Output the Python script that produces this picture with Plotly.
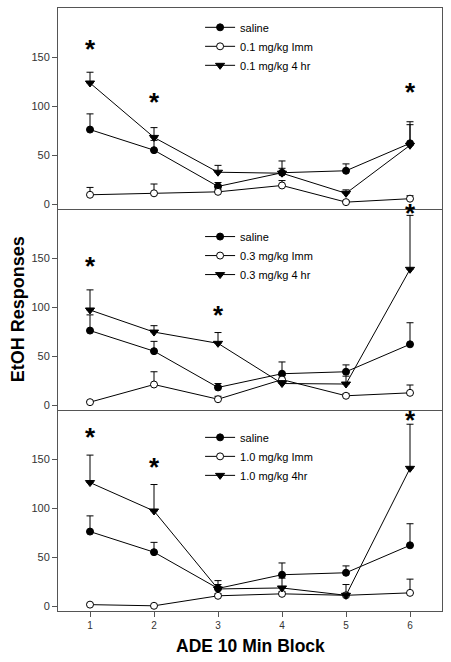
import plotly.graph_objects as go
from plotly.subplots import make_subplots

blocks = [1, 2, 3, 4, 5, 6]
tick_vals = [0, 50, 100, 150]

saline = [76, 55, 18, 32, 34, 62]
saline_err = [16, 10, 4, 12, 7, 22]

imm01 = [9.5, 11, 12.5, 19, 2, 5.5]
imm01_err = [7.5, 9.5, 2, 5, 1.5, 3]
hr01 = [123.5, 68, 32.5, 31.5, 11, 60]
hr01_err = [11, 10, 7, 5, 3.5, 21]

imm03 = [3, 21, 6, 26, 9.5, 12.5]
imm03_err = [1, 13, 3, 4, 2, 8]
hr03 = [97, 74.5, 63, 22, 21.5, 138.5]
hr03_err = [20.5, 6.5, 11, 3, 8, 55]

imm10 = [1.5, 0.3, 10.5, 12.5, 11, 13.5]
imm10_err = [0.5, 0.3, 2, 2, 2, 14]
hr10 = [126, 97, 17.5, 18.5, 11, 140.5]
hr10_err = [28, 27, 8.5, 10, 11, 45]

stars01_x = [1, 2, 6]
stars01_y = [161, 107.5, 117]
stars03_x = [1, 3, 6]
stars03_y = [145, 95, 199]
stars10_x = [1, 2, 6]
stars10_y = [176, 144.5, 193]

panels = [
    ("0.1 mg/kg Imm", imm01, imm01_err, "0.1 mg/kg 4 hr", hr01, hr01_err, stars01_x, stars01_y),
    ("0.3 mg/kg Imm", imm03, imm03_err, "0.3 mg/kg 4 hr", hr03, hr03_err, stars03_x, stars03_y),
    ("1.0 mg/kg Imm", imm10, imm10_err, "1.0 mg/kg 4hr", hr10, hr10_err, stars10_x, stars10_y),
]

FONT = "Liberation Sans, Arial, sans-serif"
fig = make_subplots(rows=3, cols=1, shared_xaxes=True, vertical_spacing=0)

legend_names = ["legend", "legend2", "legend3"]
legend_y = [0.992, 0.645, 0.312]

for i, (n_imm, v_imm, e_imm, n_hr, v_hr, e_hr, sx, sy) in enumerate(panels):
    row = i + 1
    lg = legend_names[i]
    series = [
        ("saline", saline, saline_err, dict(symbol="circle", color="black", size=7, line=dict(color="black", width=1))),
        (n_imm, v_imm, e_imm, dict(symbol="circle", color="white", size=7, line=dict(color="black", width=1))),
        (n_hr, v_hr, e_hr, dict(symbol="triangle-down", color="black", size=8, line=dict(color="black", width=1))),
    ]
    for name, vals, errs, mk in series:
        fig.add_trace(go.Scatter(
            x=blocks, y=vals, name=name, mode="lines+markers",
            line=dict(color="black", width=1), marker=mk,
            error_y=dict(type="data", symmetric=False, array=errs,
                         arrayminus=[0] * len(errs), color="black",
                         thickness=1, width=3.5),
            legend=lg, cliponaxis=False,
        ), row=row, col=1)
    yref = "y" if row == 1 else f"y{row}"
    for x, y in zip(sx, sy):
        fig.add_annotation(x=x, y=y, xref="x" if row == 1 else f"x{row}", yref=yref,
                           text="<b>*</b>", showarrow=False,
                           font=dict(family=FONT, size=26, color="black"),
                           yanchor="middle", yshift=-3)

for i in range(3):
    fig.update_yaxes(range=[-5, 200], tickvals=tick_vals, ticks="outside", ticklen=5,
                     tickcolor="#555", showline=True, linecolor="#555", linewidth=1,
                     mirror=True, showgrid=False, zeroline=False,
                     tickfont=dict(family=FONT, size=11, color="#333"), row=i + 1, col=1)
    fig.update_xaxes(range=[0.5, 6.5], tickvals=blocks, showline=True, linecolor="#555",
                     linewidth=1, mirror=(i == 0), showgrid=False, zeroline=False,
                     ticks="outside" if i == 2 else "", ticklen=5, tickcolor="#555",
                     showticklabels=(i == 2),
                     tickfont=dict(family=FONT, size=10, color="#333"), row=i + 1, col=1)

legend_style = dict(x=0.37, xanchor="left", yanchor="top", bgcolor="rgba(0,0,0,0)",
                    font=dict(family=FONT, size=11, color="black"),
                    itemwidth=30, tracegroupgap=0)
fig.update_layout(
    width=451, height=662,
    margin=dict(l=58, r=9, t=8, b=51, autoexpand=False),
    paper_bgcolor="white", plot_bgcolor="white",
    showlegend=True,
    legend=dict(y=legend_y[0], **legend_style),
    legend2=dict(y=legend_y[1], **legend_style),
    legend3=dict(y=legend_y[2], **legend_style),
)

fig.add_annotation(x=-0.105, y=0.5, xref="paper", yref="paper", text="<b>EtOH Responses</b>",
                   textangle=-90, showarrow=False, xanchor="center", yanchor="middle",
                   font=dict(family=FONT, size=18, color="black"))
fig.add_annotation(x=0.5, y=-0.058, xref="paper", yref="paper", text="<b>ADE 10 Min Block</b>",
                   showarrow=False, xanchor="center", yanchor="middle",
                   font=dict(family=FONT, size=17.5, color="black"))

fig.write_html("out.html", config={"displayModeBar": False},
               post_script="document.body.style.margin='0';document.body.style.padding='0';")
